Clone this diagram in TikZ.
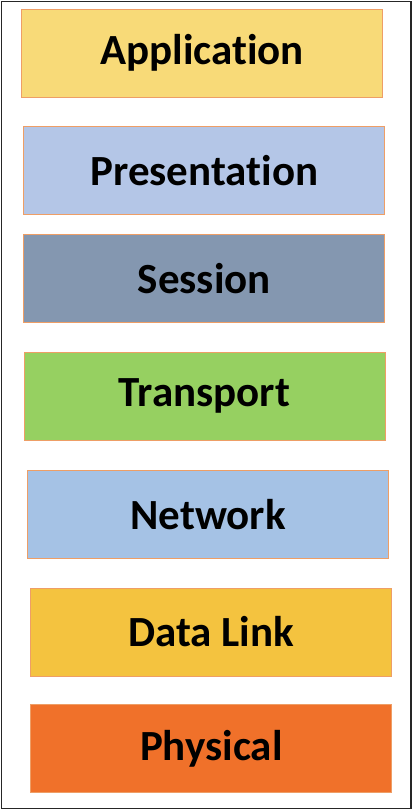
\documentclass[tikz,border=0pt]{standalone}
\usepackage{fontspec}
\setmainfont{Carlito}[Ligatures=NoCommon]
\usepackage{xcolor}
\usetikzlibrary{positioning}
\definecolor{appl}{HTML}{F8DA78}
\definecolor{pres}{HTML}{B4C6E7}
\definecolor{sess}{HTML}{8497B0}
\definecolor{trans}{HTML}{96D061}
\definecolor{netw}{HTML}{A5C2E5}
\definecolor{dlink}{HTML}{F4C33F}
\definecolor{phys}{HTML}{F0712A}
\definecolor{edge}{HTML}{EE9E66}

\begin{document}
\begin{tikzpicture}[
  x=1pt, y=1pt,
  layer/.style={draw=edge, line width=0.8pt, minimum width=361pt, minimum height=88pt, inner sep=0pt,
    font=\bfseries\fontsize{43}{50}\selectfont},
  frame/.style={draw=black!85, line width=1.6pt}
]
\useasboundingbox (0,0) rectangle (414,810);
\draw[frame] (1.5,1.5) rectangle (411,808.5);

\node[layer, fill=appl] (app) at (202,757) {Application};
\node[layer, fill=pres, below=29pt of app, xshift=2.3pt] (pres) {Presentation};
\node[layer, fill=sess, below=19pt of pres] (sess) {Session};
\node[layer, fill=trans, below=29pt of sess, xshift=0.2pt] (trans) {Transport};
\node[layer, fill=netw, below=29pt of trans, xshift=3.7pt] (net) {Network};
\node[layer, fill=dlink, below=29pt of net, xshift=3.1pt] (dlink) {Data Link};
\node[layer, fill=phys, below=27.5pt of dlink] (phys) {Physical};
\end{tikzpicture}
\end{document}
